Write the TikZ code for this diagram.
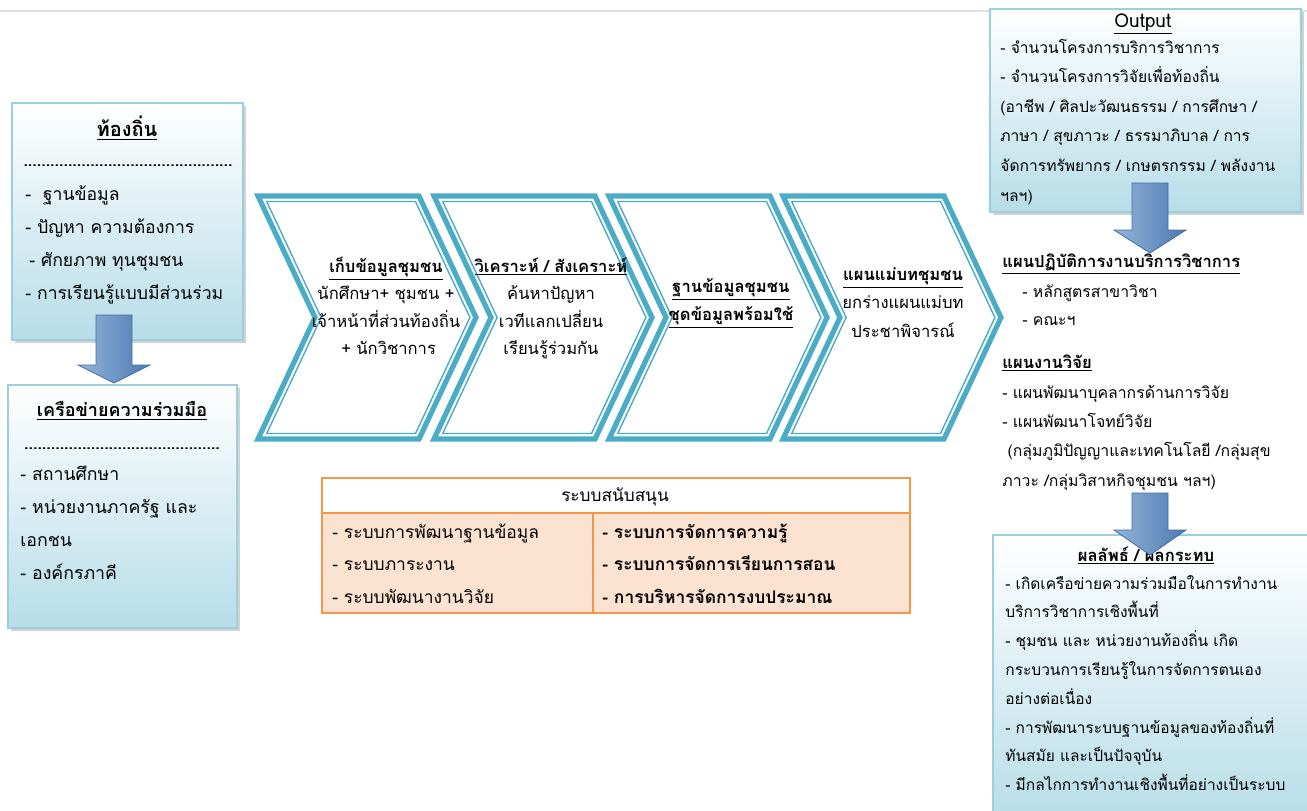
\documentclass[tikz,border=0pt]{standalone}
\usepackage{fontspec}
\setmainfont{Loma}[Script=Thai]
\usetikzlibrary{shadows}

\definecolor{boxblue}{HTML}{B7DDE8}
\definecolor{boxline}{HTML}{9CCFDE}
\definecolor{chevline}{HTML}{4BACC6}
\definecolor{arrowblue}{HTML}{4F81BD}
\definecolor{suporange}{HTML}{F79646}
\definecolor{supfill}{HTML}{FCE2D0}

\newcommand\fs[2]{\fontsize{#1}{#2}\selectfont}
% block arrow: centre x, top y, neck y, tip y
\newcommand\blkarrow[4]{%
  \draw[blkarrow] (#1-18,#2) -- (#1+18,#2) -- (#1+18,#3) -- (#1+36,#3)
    -- (#1,#4) -- (#1-36,#3) -- (#1-18,#3) -- cycle;}

\begin{document}
\begin{tikzpicture}[x=0.5pt, y=-0.5pt,
  infobox/.style={draw=boxline, line width=0.8pt, top color=white, bottom color=boxblue,
    drop shadow={shadow xshift=1.5pt, shadow yshift=-1.5pt, fill=black!35}},
  chevouter/.style={draw=chevline, line width=2.6pt, fill=white},
  chevinner/.style={draw=chevline, line width=0.7pt},
  blkarrow/.style={draw=arrowblue!85!black, line width=0.4pt,
    left color=arrowblue!60!white, right color=arrowblue!95!black},
  supline/.style={draw=suporange, line width=1pt},
  lefttxt/.style={anchor=base west, inner sep=0pt, text width=300pt, align=left},
  midtxt/.style={anchor=base, inner sep=0pt, text width=200pt, align=center},
  onetxt/.style={anchor=base, inner sep=0pt},
]
\useasboundingbox (0,0) rectangle (1307,810);
\draw[black!12, line width=0.6pt] (0,11) -- (1307,11);

% left side boxes
\path[infobox] (12,103) rectangle (243,340);
\node[onetxt, font=\fs{10}{12}] (localhead) at (127,136) {\textbf{\underline{ท้องถิ่น}}};
\node[onetxt, font=\fs{8}{8}] (localdots) at (128,166) {\textbf{...............................................}};
\node[lefttxt, font=\fs{8.8}{16.5}] (localitems) at (25,200)
  {-~~ฐานข้อมูล\\- ปัญหา ความต้องการ\\\hspace*{2pt}- ศักยภาพ ทุนชุมชน\\- การเรียนรู้แบบมีส่วนร่วม};

\path[infobox] (8,385) rectangle (237,628);
\node[onetxt, font=\fs{9}{12}] (nethead) at (122,416) {\textbf{\underline{เครือข่ายความร่วมมือ}}};
\node[onetxt, font=\fs{8}{8}] (netdots) at (122,449) {\textbf{............................................}};
\node[lefttxt, font=\fs{8.85}{16.6}] (netitems) at (20,480)
  {- สถานศึกษา\\- หน่วยงานภาครัฐ และ\\เอกชน\\- องค์กรภาคี};

\blkarrow{114}{315}{365}{383}

% process chevrons
\foreach \cx in {258,434,609,783} {
  \draw[chevouter] (\cx,196) -- ++(161,0) -- ++(57,121.5) -- ++(-57,121.5)
    -- ++(-161,0) -- ++(57,-121.5) -- cycle;
  \draw[chevinner] (\cx+8.7,201.5) -- (\cx+157.5,201.5) -- (\cx+211.9,317.5)
    -- (\cx+157.5,433.5) -- (\cx+8.7,433.5) -- (\cx+63.1,317.5) -- cycle;
}
\node[midtxt, font=\fs{8}{13.75}] (collect) at (386,272)
  {\fs{8.3}{13.75}\textbf{\underline{เก็บข้อมูลชุมชน}}\\นักศึกษา+ ชุมชน +\\เจ้าหน้าที่ส่วนท้องถิ่น\\\ + นักวิชาการ};
\node[midtxt, font=\fs{8}{13.75}] (analyse) at (551,272)
  {\fs{8.3}{13.75}\textbf{\underline{วิเคราะห์ / สังเคราะห์}}\\ค้นหาปัญหา\\เวทีแลกเปลี่ยน\\เรียนรู้ร่วมกัน};
\node[midtxt, font=\fs{8.3}{14}] (database) at (731,292)
  {\textbf{\underline{ฐานข้อมูลชุมชน}}\\\textbf{\underline{ชุดข้อมูลพร้อมใช้}}};
\node[midtxt, font=\fs{8}{14.25}] (masterplan) at (903,280)
  {\fs{8.3}{14.25}\textbf{\underline{แผนแม่บทชุมชน}}\\ยกร่างแผนแม่บท\\ประชาพิจารณ์};

% support table
\fill[white] (322,478) rectangle (910,513);
\fill[supfill] (322,513) rectangle (910,613);
\draw[supline] (322,478) rectangle (910,613);
\draw[supline] (322,513) -- (910,513);
\draw[supline] (593,513) -- (593,613);
\node[onetxt, font=\fs{8.6}{12}] (suphead) at (615,501) {ระบบสนับสนุน};
\node[lefttxt, font=\fs{8.7}{16.25}] (supleft) at (332,538)
  {- ระบบการพัฒนาฐานข้อมูล\\- ระบบภาระงาน\\- ระบบพัฒนางานวิจัย};
\node[lefttxt, font=\fs{8.7}{16.25}] (supright) at (602,538)
  {\textbf{- ระบบการจัดการความรู้}\\\textbf{- ระบบการจัดการเรียนการสอน}\\\textbf{- การบริหารจัดการงบประมาณ}};

% right side
\path[infobox] (990,9) rectangle (1301,212);
\node[onetxt, font=\fs{9.5}{12}] (outhead) at (1143,27) {\underline{Output}};
\node[lefttxt, font=\fs{7.8}{14.8}] (outitems) at (1000,53)
  {- จำนวนโครงการบริการวิชาการ\\- จำนวนโครงการวิจัยเพื่อท้องถิ่น\\(อาชีพ / ศิลปะวัฒนธรรม / การศึกษา /\\ภาษา / สุขภาวะ / ธรรมาภิบาล / การ\\จัดการทรัพยากร / เกษตรกรรม / พลังงาน\\ฯลฯ)};

\node[anchor=base west, inner sep=0pt, font=\fs{8.3}{12}] (servplan) at (1002,267) {\textbf{\underline{แผนปฏิบัติการงานบริการวิชาการ}}};
\node[lefttxt, font=\fs{7.9}{14}] (servitems) at (1022,297)
  {- หลักสูตรสาขาวิชา\\- คณะฯ};
\node[anchor=base west, inner sep=0pt, font=\fs{8.3}{12}] (resplan) at (1002,368) {\textbf{\underline{แผนงานวิจัย}}};
\node[lefttxt, font=\fs{7.9}{14.7}] (resitems) at (1002,398)
  {- แผนพัฒนาบุคลากรด้านการวิจัย\\- แผนพัฒนาโจทย์วิจัย\\\ (กลุ่มภูมิปัญญาและเทคโนโลยี /กลุ่มสุข\\ภาวะ /กลุ่มวิสาหกิจชุมชน ฯลฯ)};

\path[infobox] (993,535) rectangle (1315,820);
\node[onetxt, font=\fs{8.3}{12}] (impacthead) at (1146,561) {\textbf{\underline{ผลลัพธ์ / ผลกระทบ}}};
\node[lefttxt, font=\fs{7.75}{14.4}] (impactitems) at (1005,589)
  {- เกิดเครือข่ายความร่วมมือในการทำงาน\\บริการวิชาการเชิงพื้นที่\\- ชุมชน และ หน่วยงานท้องถิ่น เกิด\\กระบวนการเรียนรู้ในการจัดการตนเอง\\อย่างต่อเนื่อง\\- การพัฒนาระบบฐานข้อมูลของท้องถิ่นที่\\ทันสมัย และเป็นปัจจุบัน\\- มีกลไกการทำงานเชิงพื้นที่อย่างเป็นระบบ};

\blkarrow{1150}{183}{230}{253}
\blkarrow{1150}{493}{530}{555}
\end{tikzpicture}
\end{document}
